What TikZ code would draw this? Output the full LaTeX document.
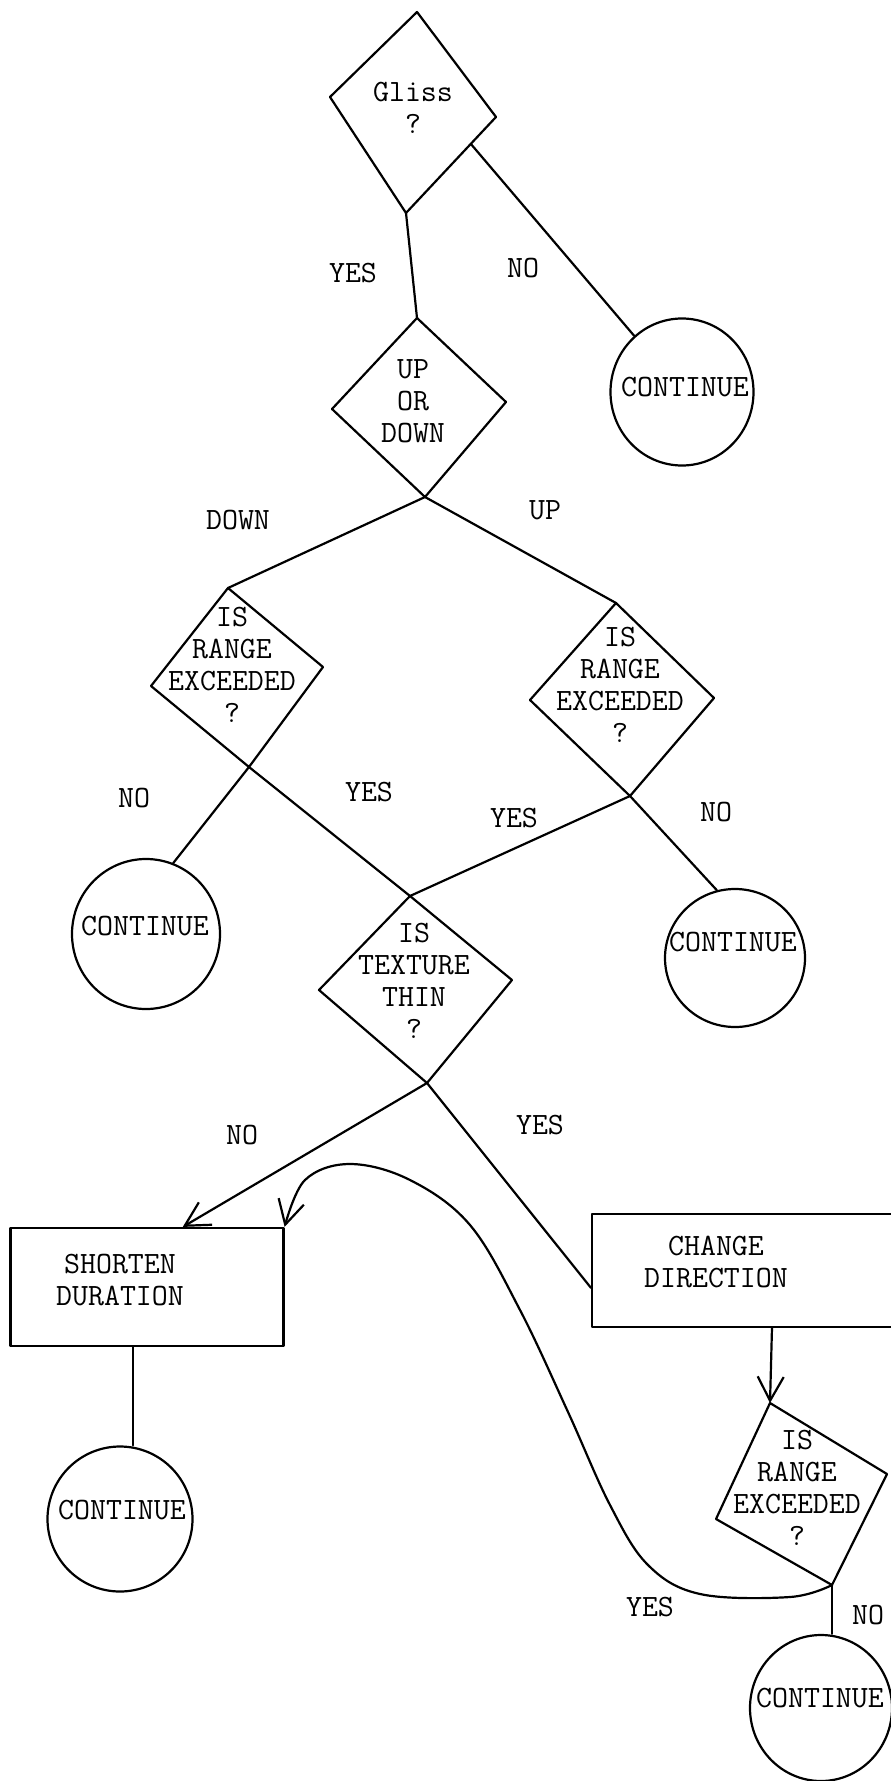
\documentclass[tikz,border=0pt]{standalone}
\usepackage{fontspec}
\usetikzlibrary{shapes.geometric,arrows.meta,calc}
\tikzset{
  ln/.style={line width=1.1pt, line cap=round, line join=round},
  lbl/.style={font=\ttfamily\fontsize{15.5}{16}\selectfont, inner sep=0pt},
  txt/.style={lbl, align=center},
  cont/.style={ln, draw, ellipse, inner sep=0pt},
  boxn/.style={ln, draw, rectangle, inner sep=0pt},
  arr/.style={ln, -{Straight Barb[length=12pt,width=13pt,line width=1.1pt]}},
}
\begin{document}
\begin{tikzpicture}[x=0.5pt,y=-0.5pt]
\useasboundingbox (0,0) rectangle (890,1781);
% ---- diamonds (vertices as named coordinates)
\coordinate (dg-t) at (417,12);  \coordinate (dg-r) at (496,117);
\coordinate (dg-b) at (406,213); \coordinate (dg-l) at (330,97);
\coordinate (du-t) at (417,318); \coordinate (du-r) at (506,402);
\coordinate (du-b) at (425,497); \coordinate (du-l) at (332,409);
\coordinate (dl-t) at (228,588); \coordinate (dl-r) at (323,667);
\coordinate (dl-b) at (249,767); \coordinate (dl-l) at (151,686);
\coordinate (dr-t) at (616,603); \coordinate (dr-r) at (714,698);
\coordinate (dr-b) at (630,796); \coordinate (dr-l) at (530,700);
\coordinate (dt-t) at (410,896); \coordinate (dt-r) at (512,980);
\coordinate (dt-b) at (427,1083); \coordinate (dt-l) at (319,990);
\coordinate (d4-t) at (770,1403); \coordinate (d4-r) at (887,1474);
\coordinate (d4-b) at (832,1585); \coordinate (d4-l) at (716,1519);
\foreach \d in {dg,du,dl,dr,dt,d4}
  \draw[ln] (\d-t) -- (\d-r) -- (\d-b) -- (\d-l) -- cycle;
\node[txt] (dg) at (413,108) {Gliss\\?};
\node[txt] (du) at (413,401) {UP\\OR\\DOWN};
\node[txt] (dl) at (232,665) {IS\\RANGE\\EXCEEDED\\?};
\node[txt] (dr) at (620,685) {IS\\RANGE\\EXCEEDED\\?};
\node[txt] (dt) at (414,981) {IS\\TEXTURE\\THIN\\?};
\node[txt] (d4) at (797,1488) {IS\\RANGE\\EXCEEDED\\?};
% ---- continue circles
\node[cont, minimum width=71.5pt, minimum height=73.5pt] (cA) at (682,392) {};
\node[cont, minimum width=70pt, minimum height=69pt] (cB) at (735,958) {};
\node[cont, minimum width=74pt, minimum height=75pt] (cC) at (146,934) {};
\node[cont, minimum width=72.5pt, minimum height=72.5pt] (cD) at (120,1519) {};
\node[cont, minimum width=71pt, minimum height=73pt] (cE) at (821,1708) {};
\node[lbl] (cAt) at (685,387) {CONTINUE};
\node[lbl] (cBt) at (733,942) {CONTINUE};
\node[lbl] (cCt) at (145,926) {CONTINUE};
\node[lbl] (cDt) at (122,1510) {CONTINUE};
\node[lbl] (cEt) at (820,1698) {CONTINUE};
% ---- boxes
\node[boxn, minimum width=136.5pt, minimum height=59pt] (sd) at (147,1287) {};
\node[txt] (sdt) at (120,1280) {SHORTEN\\DURATION};
\node[boxn, minimum width=155pt, minimum height=56.5pt] (cd) at (747,1270.5) {};
\node[txt] (cdt) at (716,1262) {CHANGE\\DIRECTION};
% ---- connectors
\coordinate (dg-o) at ($(dg-r)!0.28!(dg-b)$);
\draw[ln] (dg-b) -- (du-t);
\draw[ln] (dg-o) -- (cA);
\draw[ln] (du-b) -- (dl-t);
\draw[ln] (du-b) -- (dr-t);
\draw[ln] (dl-b) -- (cC.69);
\draw[ln] (dl-b) -- (dt-t);
\draw[ln] (dr-b) -- (dt-t);
\draw[ln] (dr-b) -- (cB.105);
\coordinate (sd-i) at ($(sd.north west)!0.63!(sd.north east)$);
\coordinate (cd-i) at ($(cd.north west)!0.65!(cd.south west)$);
\coordinate (sd-o) at ($(sd.south west)!0.45!(sd.south east)$);
\coordinate (cd-o) at ($(cd.south west)!0.58!(cd.south east)$);
\draw[arr] (dt-b) -- (sd-i);
\draw[ln] (dt-b) -- (cd-i);
\draw[ln] (sd-o) -- (sd-o |- cD.north);
\draw[arr] (cd-o) -- (d4-t);
\draw[ln] (d4-b) -- (d4-b |- cE.north);
\draw[arr] plot[smooth, tension=0.6] coordinates {(d4-b) (790,1597) (700,1594) (648,1565) (610,1505) (568,1412) (520,1310) (470,1225) (410,1180) (350,1164) (305,1180) (sd.north east)};
% ---- branch labels
\node[lbl] (y1) at (353,273) {YES};
\node[lbl] (n1) at (523,268) {NO};
\node[lbl] (w1) at (238,520) {DOWN};
\node[lbl] (u1) at (545,510) {UP};
\node[lbl] (n2) at (134,798) {NO};
\node[lbl] (y2) at (369,792) {YES};
\node[lbl] (y3) at (514,818) {YES};
\node[lbl] (n3) at (716,812) {NO};
\node[lbl] (n4) at (242,1135) {NO};
\node[lbl] (y4) at (540,1125) {YES};
\node[lbl] (y5) at (650,1607) {YES};
\node[lbl] (n5) at (868,1615) {NO};
\end{tikzpicture}
\end{document}
